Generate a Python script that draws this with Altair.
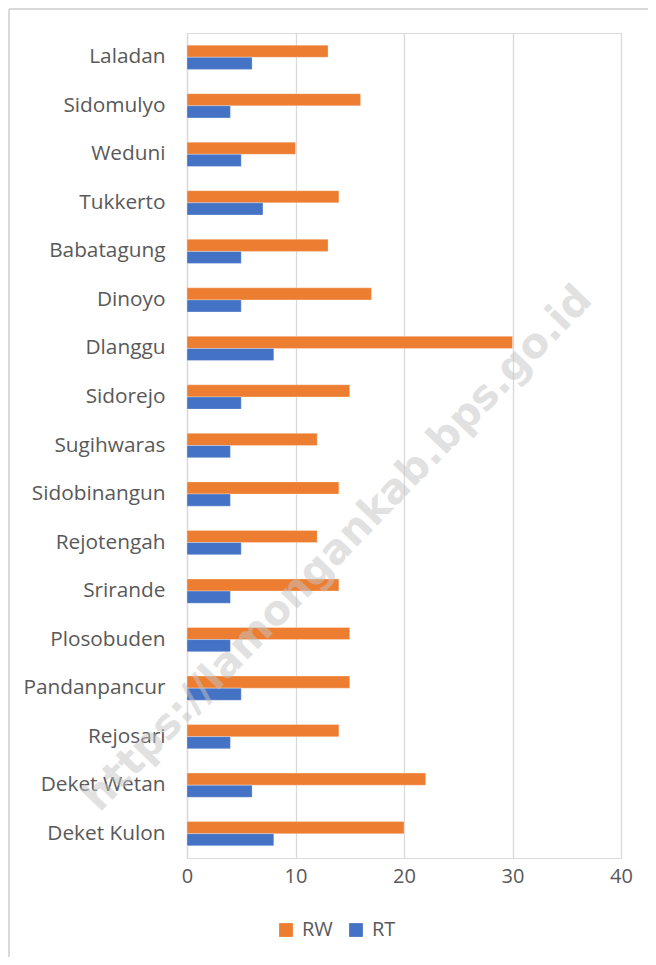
import altair as alt
import pandas as pd

categories = ["Laladan", "Sidomulyo", "Weduni", "Tukkerto", "Babatagung", "Dinoyo",
              "Dlanggu", "Sidorejo", "Sugihwaras", "Sidobinangun", "Rejotengah",
              "Srirande", "Plosobuden", "Pandanpancur", "Rejosari", "Deket Wetan",
              "Deket Kulon"]
rw = [13, 16, 10, 14, 13, 17, 30, 15, 12, 14, 12, 14, 15, 15, 14, 22, 20]
rt = [6, 4, 5, 7, 5, 5, 8, 5, 4, 4, 5, 4, 4, 5, 4, 6, 8]
series = ["RW", "RT"]
colors = ["#ED7D31", "#4472C4"]
x_ticks = [0, 10, 20, 30, 40]
watermark = "https://lamongankab.bps.go.id"

rows = []
for c, a, b in zip(categories, rw, rt):
    rows.append({"desa": c, "seri": "RW", "nilai": a})
    rows.append({"desa": c, "seri": "RT", "nilai": b})
df = pd.DataFrame(rows)

FONT = "Open Sans"
GREY = "#595959"

W, H = 434, 825

bars = alt.Chart(df).mark_bar(stroke="white", strokeWidth=0.6, strokeOpacity=0.5).encode(
    x=alt.X("nilai:Q", scale=alt.Scale(domain=[0, 40], nice=False),
            axis=alt.Axis(values=x_ticks, title=None, grid=True, gridColor="#d9d9d9",
                          gridWidth=1.3, domain=False, ticks=False, labelFont=FONT,
                          labelFontSize=20, labelColor=GREY, labelPadding=8,
                          labelFlush=False)),
    y=alt.Y("desa:N", sort=categories,
            scale=alt.Scale(paddingInner=0.5, paddingOuter=0.25),
            axis=alt.Axis(title=None, domain=True, domainColor="#d9d9d9", domainWidth=1.3,
                          ticks=False, labelFont=FONT, labelFontSize=20.8, labelColor=GREY,
                          labelPadding=22, grid=False)),
    yOffset=alt.YOffset("seri:N", sort=series, scale=alt.Scale(paddingInner=0, paddingOuter=0)),
    color=alt.Color("seri:N", sort=series,
                    scale=alt.Scale(domain=series, range=colors),
                    legend=alt.Legend(title=None, orient="none", legendX=89, legendY=887,
                                      direction="horizontal", symbolType="square",
                                      symbolSize=190, symbolStrokeWidth=0,
                                      labelFont=FONT, labelFontSize=20, labelColor=GREY,
                                      columnPadding=13, labelOffset=6)),
)

wm = alt.Chart(pd.DataFrame({"t": [watermark]})).mark_text(
    angle=314, font="DejaVu Sans", fontWeight="bold", fontSize=41,
    color="#c4c4c4", opacity=0.5, align="center", baseline="middle"
).encode(text="t:N", x=alt.value(151), y=alt.value(516))

border = alt.Chart(pd.DataFrame({"a": [0]})).mark_rule(color="#d9d9d9", strokeWidth=2).encode(
    x=alt.value(-178), x2=alt.value(470), y=alt.value(-24), y2=alt.value(-24))
border2 = alt.Chart(pd.DataFrame({"a": [0]})).mark_rule(color="#d9d9d9", strokeWidth=2).encode(
    x=alt.value(-178), x2=alt.value(-178), y=alt.value(-24), y2=alt.value(940))

chart = alt.layer(bars, wm, border, border2).properties(
    width=W, height=H,
    autosize=alt.AutoSizeParams(type="none"),
    padding={"left": 179, "top": 25, "right": 27, "bottom": 99},
).configure_view(stroke=None).configure(background="white")

chart.save("out.html", embed_options={"renderer": "svg", "actions": False})
